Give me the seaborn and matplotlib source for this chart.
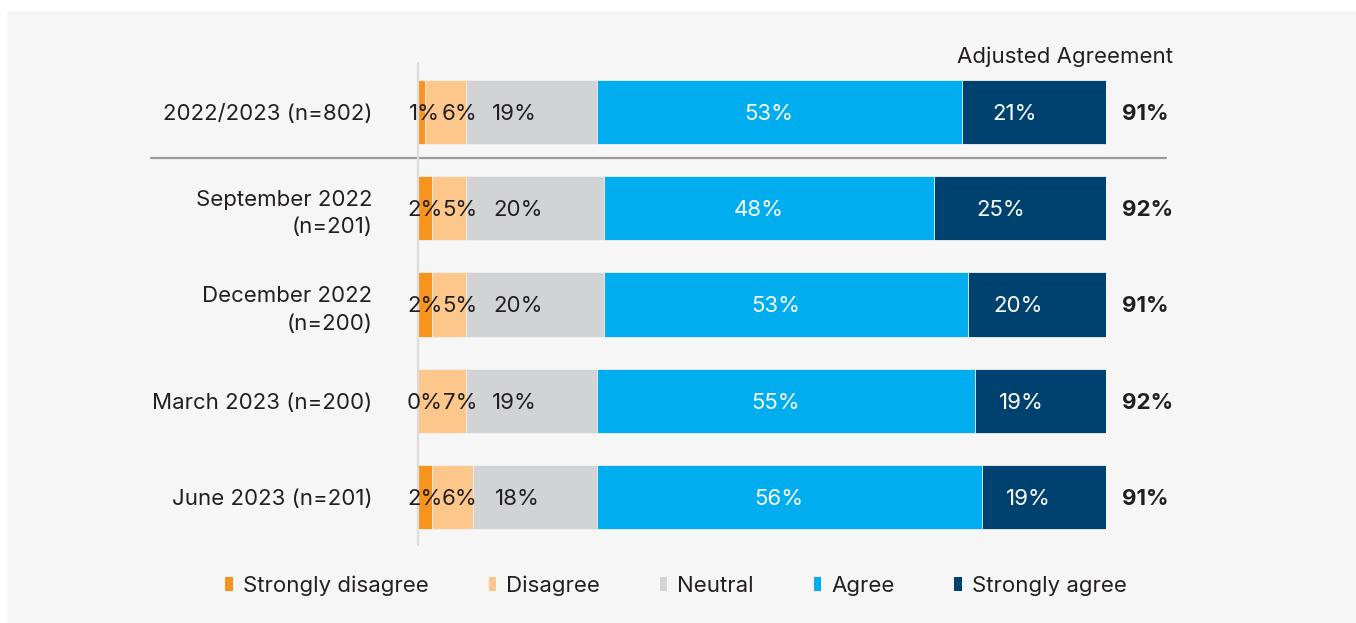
import numpy as np
import pandas as pd
import matplotlib
matplotlib.use("Agg")
import matplotlib.pyplot as plt
import matplotlib.transforms as mtransforms
from matplotlib.patches import Patch, Rectangle
import seaborn as sns

# Survey waves (rows, top to bottom)
waves = [
    "2022/2023 (n=802)",
    "September 2022\n(n=201)",
    "December 2022\n(n=200)",
    "March 2023 (n=200)",
    "June 2023 (n=201)",
]
responses = ["Strongly disagree", "Disagree", "Neutral", "Agree", "Strongly agree"]

strongly_disagree = [1, 2, 2, 0, 2]
disagree = [6, 5, 5, 7, 6]
neutral = [19, 20, 20, 19, 18]
agree = [53, 48, 53, 55, 56]
strongly_agree = [21, 25, 20, 19, 19]
adjusted_agreement = [91, 92, 91, 92, 91]

colors = ["#F7941D", "#FDC78B", "#D1D3D4", "#00AEEF", "#00426F"]
label_colors = ["#231F20", "#231F20", "#231F20", "white", "white"]
text_color = "#231F20"
FS = 16

sns.set_theme(style="white")
plt.rcParams["font.family"] = ["Inter", "DejaVu Sans"]

W, H, DPI = 1356, 623, 100
fig = plt.figure(figsize=(W / DPI, H / DPI), dpi=DPI)
fig.patch.set_facecolor("white")
# light panel behind the chart
fig.patches.append(Rectangle((7 / W, 0), 1 - 7 / W, 1 - 11 / H,
                             transform=fig.transFigure, facecolor="#F6F6F6",
                             edgecolor="none", zorder=-10))

ax_left, ax_right = 418, 1106
ax_top, ax_bottom = 63, 545
ax = fig.add_axes([ax_left / W, 1 - ax_bottom / H, (ax_right - ax_left) / W,
                   (ax_bottom - ax_top) / H])
ax.set_facecolor("none")

df = pd.DataFrame({
    "wave": waves,
    responses[0]: strongly_disagree,
    responses[1]: disagree,
    responses[2]: neutral,
    responses[3]: agree,
    responses[4]: strongly_agree,
})
vals = df[responses].to_numpy(dtype=float)
cum = vals.cumsum(axis=1)

# stacked bars: draw cumulative totals from the longest down
for i in reversed(range(len(responses))):
    sns.barplot(x=cum[:, i], y=df["wave"], orient="h", color=colors[i],
                saturation=1, width=0.667, edgecolor="#F2F2F2", linewidth=0.6,
                ax=ax)

# segment labels: the two thin disagree segments get fixed slots at the
# start of the bar so their labels never collide; the rest sit near the
# middle of their segment, nudged slightly left
slot_x = [1.0, 6.1]
nudge = [0, 0, -2.5, -1.5, -2.8]
for r in range(len(waves)):
    for i in range(len(responses)):
        start = cum[r, i] - vals[r, i]
        x = slot_x[i] if i < 2 else start + vals[r, i] / 2 + nudge[i]
        ax.text(x, r, f"{int(vals[r, i])}%", ha="center", va="center_baseline",
                fontsize=FS, color=label_colors[i], zorder=5)

ax.set_xlim(0, 100)
ax.set_ylim(4.5, -0.51)
ax.set_xlabel("")
ax.set_ylabel("")
ax.set_xticks([])
ax.tick_params(axis="y", length=0, pad=33, labelsize=FS, labelcolor=text_color)
for lab in ax.get_yticklabels():
    lab.set_horizontalalignment("right")
    lab.set_multialignment("right")
    lab.set_linespacing(1.45)
    if "\n" not in lab.get_text():
        lab.set_verticalalignment("center_baseline")

for s in ["top", "right", "bottom"]:
    ax.spines[s].set_visible(False)
ax.spines["left"].set_color("#DCDCDC")
ax.spines["left"].set_linewidth(1.6)

# separator between the combined wave and the individual waves
trans = mtransforms.blended_transform_factory(ax.transAxes, ax.transData)
ax.plot([(151 - ax_left) / (ax_right - ax_left), (1166 - ax_left) / (ax_right - ax_left)],
        [0.48, 0.48], transform=trans, color="#9B9B9B", lw=1.6, clip_on=False)

# adjusted agreement column
x_adj = (1122 - ax_left) / (ax_right - ax_left)
for r, v in enumerate(adjusted_agreement):
    ax.text(x_adj, r, f"{v}%", transform=trans, ha="left", va="center_baseline",
            fontsize=FS, fontweight="bold", color=text_color)
fig.text(1173 / W, 1 - 57 / H, "Adjusted Agreement", ha="right", va="center",
         fontsize=FS, color=text_color)

handles = [Patch(facecolor=c, edgecolor="none", label=l) for c, l in zip(colors, responses)]
fig.legend(handles=handles, loc="center", bbox_to_anchor=(676 / W, 1 - 586 / H),
           ncol=5, frameon=False, fontsize=FS, handlelength=0.33,
           handleheight=0.6, handletextpad=0.45, columnspacing=2.7,
           labelcolor=text_color)

fig.savefig("out.png", dpi=DPI, facecolor=fig.get_facecolor())
